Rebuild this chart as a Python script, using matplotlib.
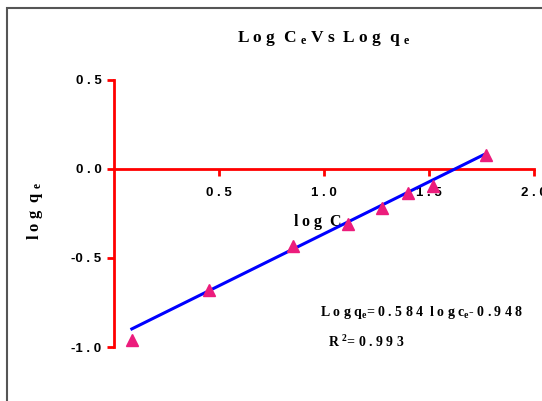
import matplotlib
matplotlib.use("Agg")
import matplotlib.pyplot as plt
from matplotlib.patches import Rectangle
import numpy as np

plt.rcParams['mathtext.fontset'] = 'custom'
plt.rcParams['mathtext.rm'] = 'Liberation Serif:bold'
plt.rcParams['mathtext.bf'] = 'Liberation Serif:bold'
plt.rcParams['mathtext.it'] = 'Liberation Serif:bold'

# data
log_ce = [0.085, 0.45, 0.85, 1.116, 1.277, 1.40, 1.52, 1.77]
log_qe = [-0.96, -0.677, -0.434, -0.31, -0.217, -0.135, -0.097, 0.081]
slope = 0.584
intercept = -0.948

xticks = [0.5, 1.0, 1.5, 2.0]
xtick_labels = ['0 . 5', '1 . 0', '1 . 5', '2 . 0']
yticks = [-1.0, -0.5, 0.0, 0.5]
ytick_labels = ['-1 . 0', '-0 . 5', '0 . 0', '0 . 5']

fig = plt.figure(figsize=(5.42, 4.01), dpi=100)
W, H = 542, 401
ax = fig.add_axes([114 / W, 1 - 347 / H, (534 - 114) / W, (347 - 80) / H])

# gray frame, clipped at right and bottom like the original
fig.patches.append(Rectangle((7 / W, -0.1), 1.2, 1 - 8 / H + 0.1,
                             transform=fig.transFigure, fill=False,
                             edgecolor='#555555', linewidth=1.5))

# fitted line over the data range
fx = np.array([min(log_ce), max(log_ce) - 0.01])
ax.plot(fx, slope * fx + intercept, color='#0000ff', linewidth=2.2, zorder=3)
ax.plot(log_ce, log_qe, linestyle='none', marker='^', markersize=8,
        color='#ec1c7c', zorder=4, clip_on=False)

ax.set_xlim(0, 2.0)
ax.set_ylim(-1.0, 0.5)

for s in ['top', 'right']:
    ax.spines[s].set_visible(False)
ax.spines['bottom'].set_position(('data', 0))
ax.spines['bottom'].set_bounds(0, 2.0)
ax.spines['left'].set_bounds(-1.0, 0.5)
for s in ['bottom', 'left']:
    ax.spines[s].set_color('red')
    ax.spines[s].set_linewidth(2)

ax.set_xticks(xticks)
ax.set_xticklabels(xtick_labels)
ax.set_yticks(yticks)
ax.set_yticklabels(ytick_labels)
ax.tick_params(axis='both', colors='red', width=2, length=5, direction='out')
ax.tick_params(axis='x', pad=8)
ax.tick_params(axis='y', pad=4)
for lab in ax.get_xticklabels() + ax.get_yticklabels():
    lab.set_color('black')
    lab.set_fontweight('bold')
    lab.set_fontsize(9.5)
    lab.set_family('Liberation Sans')

serif = dict(family='Liberation Serif', fontweight='bold')

ax.set_xlabel(r'l o g  C $_\mathbf{e}$', fontsize=11.5, **serif)
ax.xaxis.set_label_coords(0.497, 0.505)
ax.set_ylabel(r'l o g  q $_\mathbf{e}$', fontsize=12, **serif)
ax.yaxis.set_label_coords(-0.165, 0.51)

fig.text(324 / W, 1 - 38 / H, r'L o g  C $_\mathbf{e}$ V s  L o g  q $_\mathbf{e}$',
         ha='center', va='center', fontsize=12.5, **serif)

ax.text(0.49, 0.13, r'L o g q$_\mathbf{e}$= 0 . 5 8 4  l o g c$_\mathbf{e}$- 0 . 9 4 8',
        transform=ax.transAxes, ha='left', va='center', fontsize=10, **serif)
ax.text(0.51, 0.02, r'R $^\mathbf{2}$= 0 . 9 9 3',
        transform=ax.transAxes, ha='left', va='center', fontsize=10, **serif)

fig.savefig('out.png', dpi=100)
